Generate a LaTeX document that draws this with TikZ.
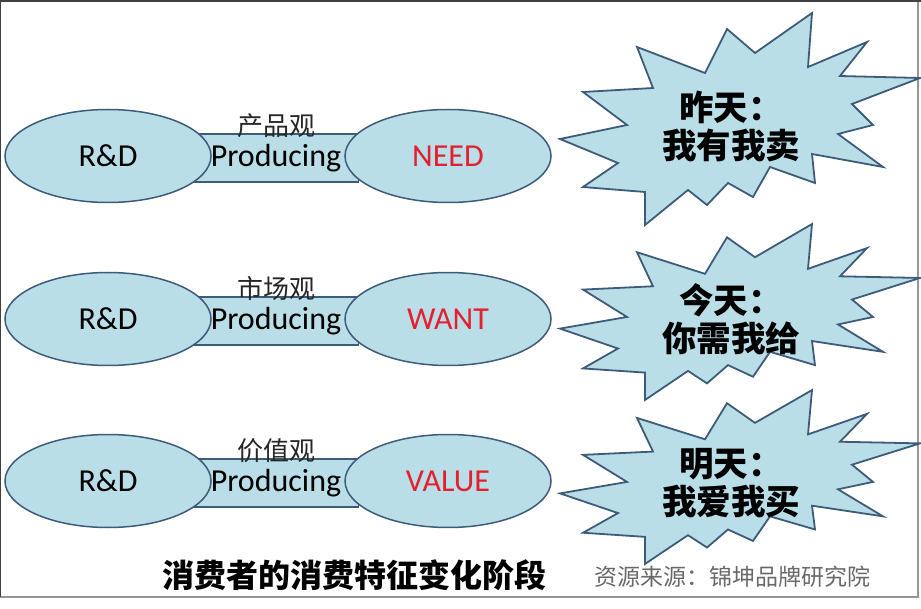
\documentclass[tikz,border=0pt]{standalone}
\usepackage{fontspec}
\setmainfont{Carlito}
\newfontfamily\cjk{Noto Sans CJK SC}
\usetikzlibrary{shapes.geometric}

\definecolor{bubblefill}{RGB}{185,222,232}
\definecolor{bubbleline}{RGB}{62,92,122}
\definecolor{needred}{RGB}{228,32,48}
\definecolor{sourcegray}{RGB}{105,105,105}
\definecolor{framegray}{RGB}{150,150,150}

\begin{document}
\begin{tikzpicture}[x=1pt, y=-1pt,
  oval/.style={ellipse, draw=bubbleline, line width=1.5pt, fill=bubblefill, minimum width=206pt, minimum height=93pt, inner sep=0pt, font=\fontsize{32}{36}\selectfont},
  band/.style={rectangle, draw=bubbleline, line width=1.5pt, fill=bubblefill, minimum width=165pt, minimum height=48pt, inner sep=0pt, font=\fontsize{32}{36}\selectfont},
  viewlabel/.style={font=\cjk\fontsize{26}{28}\selectfont, text=black!85, inner sep=0pt},
  bursttext/.style={font=\cjk\bfseries\fontsize{34.5}{38}\selectfont, align=center, inner sep=0pt},
  starburst/.pic={\draw[bubbleline, line width=1.8pt, fill=bubblefill, line join=miter]
    (72,-106) -- (68,-52) -- (127,-77) -- (100,-43) -- (180,-41) -- (112,-15) -- (133,6)
    -- (98,15) -- (143,48) -- (72,35) -- (75,64) -- (30,48) -- (13,78) -- (-12,64)
    -- (-33,86) -- (-52,71) -- (-95,106) -- (-95,73) -- (-157,68) -- (-122,44) -- (-180,20)
    -- (-113,6) -- (-157,-27) -- (-87,-31) -- (-103,-72) -- (-35,-46) -- (-13,-90) -- (15,-66) -- cycle;}
]
\useasboundingbox (0,0) rectangle (921,609);

% frame
\draw[framegray, line width=1.2pt] (0,597) -- (918,597) -- (918,0);
\draw[black!75, line width=2.5pt] (0,597) -- (0,1) -- (921,1);

% Yesterday
\node[band] (prod1) at (276,158) {Producing};
\node[oval] (rd1) at (108,156) {R\&D};
\node[oval, text=needred] (need) at (448,156) {NEED};
\node[viewlabel, anchor=base] (view1) at ([yshift=-2pt]prod1.north) {产品观};

% Today
\node[band] (prod2) at (276,321) {Producing};
\node[oval] (rd2) at (108,319) {R\&D};
\node[oval, text=needred] (want) at (448,319) {WANT};
\node[viewlabel, anchor=base] (view2) at ([yshift=-2pt]prod2.north) {市场观};

% Tomorrow
\node[band] (prod3) at (276,483) {Producing};
\node[oval] (rd3) at (108,481) {R\&D};
\node[oval, text=needred] (value) at (448,481) {VALUE};
\node[viewlabel, anchor=base] (view3) at ([yshift=-2pt]prod3.north) {价值观};

% bursts
\pic at (740,119) {starburst};
\pic[yscale=0.83] at (740,312) {starburst};
\pic[yscale=0.82] at (740,477) {starburst};
\node[bursttext] (yesterday) at (731,126) {昨天：\\我有我卖};
\node[bursttext] (today) at (731,319) {今天：\\你需我给};
\node[bursttext] (tomorrow) at (731,483) {明天：\\我爱我买};

% caption
\node[font=\cjk\bfseries\fontsize{32}{36}\selectfont] (title) at (354,575) {消费者的消费特征变化阶段};
\node[font=\cjk\fontsize{23}{26}\selectfont, text=sourcegray] (source) at (732,577) {资源来源：锦坤品牌研究院};

\end{tikzpicture}
\end{document}
